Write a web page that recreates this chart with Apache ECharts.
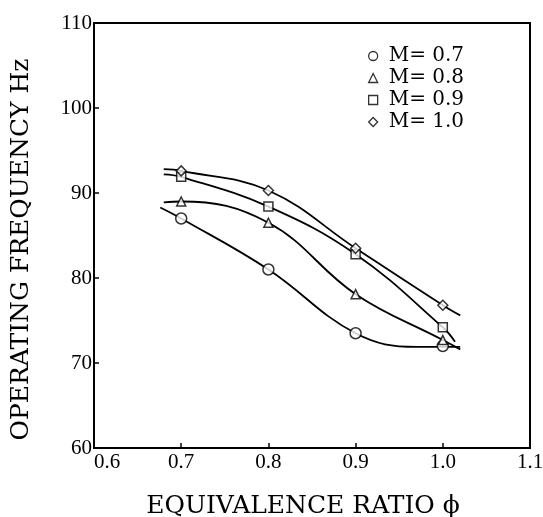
<!DOCTYPE html>
<html>
<head>
<meta charset="utf-8">
<script src="https://cdn.jsdelivr.net/npm/echarts@6/dist/echarts.min.js"></script>
<style>
  html, body { margin: 0; padding: 0; background: #fff; }
  #chart { width: 543px; height: 517px; }
</style>
</head>
<body>
<div id="chart"></div>
<script>
// measured points (phi, Hz)
var phi = [0.7, 0.8, 0.9, 1.0];
var m07 = [87.0, 81.0, 73.5, 72.0];
var m08 = [89.0, 86.5, 78.1, 72.7];
var m09 = [91.9, 88.4, 82.8, 74.2];
var m10 = [92.6, 90.3, 83.5, 76.8];

// fitted curves, including the short run past the end points
var curve07 = [[0.676, 88.3], [0.7, 87.0], [0.8, 81.0], [0.9, 73.5], [0.97, 71.9], [1.02, 71.9]];
var curve08 = [[0.68, 88.9], [0.7, 89.0], [0.8, 86.5], [0.9, 78.1], [1.0, 72.7], [1.02, 71.6]];
var curve09 = [[0.68, 92.2], [0.7, 91.9], [0.8, 88.4], [0.9, 82.8], [1.0, 74.2], [1.014, 72.5]];
var curve10 = [[0.68, 92.8], [0.7, 92.6], [0.8, 90.3], [0.9, 83.5], [1.0, 76.8], [1.02, 75.6]];

var names = ['M= 0.7', 'M= 0.8', 'M= 0.9', 'M= 1.0'];
var symbols = ['circle', 'triangle', 'rect', 'diamond'];
var sizes = [11, 9, 9, 10];

var xTicks = [0.6, 0.7, 0.8, 0.9, 1.0, 1.1];
var yTicks = [60, 70, 80, 90, 100, 110];

var serif = '"Liberation Serif", "Times New Roman", serif';
var wideSerif = '"DejaVu Serif", serif';

function pairs(ys) {
    return phi.map(function (x, i) { return [x, ys[i]]; });
}

function curveSeries(data) {
    return {
        type: 'line',
        data: data,
        smooth: 0.4,
        showSymbol: false,
        silent: true,
        lineStyle: { color: '#000', width: 1.8 },
        z: 2
    };
}

function pointSeries(i, ys) {
    return {
        type: 'scatter',
        name: names[i],
        data: pairs(ys),
        symbol: symbols[i],
        symbolSize: sizes[i],
        itemStyle: { color: '#fff', borderColor: '#000', borderWidth: 1.5 },
        z: 3
    };
}

var chart = echarts.init(document.getElementById('chart'));

var option = {
    animation: false,
    backgroundColor: '#fff',
    grid: {
        left: 94, right: 13, top: 23, bottom: 69,
        containLabel: false,
        outerBoundsMode: 'none',
        show: true,
        borderColor: '#000',
        borderWidth: 2
    },
    legend: {
        orient: 'vertical',
        left: 363,
        top: 41,
        itemGap: 2,
        itemWidth: 9,
        itemHeight: 9,
        data: names,
        textStyle: { fontFamily: wideSerif, fontSize: 20, color: '#000', padding: [0, 0, 0, 6] },
        itemStyle: { color: '#fff', borderColor: '#000', borderWidth: 1.3 }
    },
    xAxis: {
        type: 'value',
        min: 0.6, max: 1.1, interval: 0.1,
        name: 'EQUIVALENCE RATIO \u03d5',
        nameLocation: 'middle',
        nameGap: 46,
        nameTextStyle: { fontFamily: wideSerif, fontSize: 25, color: '#000', padding: [0, 18, 0, 0] },
        axisLine: { lineStyle: { color: '#000', width: 2 } },
        axisTick: { inside: true, length: 5, lineStyle: { color: '#000', width: 1.5 } },
        splitLine: { show: false },
        axisLabel: {
            fontFamily: serif, fontSize: 21, color: '#000', margin: 4,
            alignMinLabel: 'left',
            formatter: function (v) { return xTicks.indexOf(+v.toFixed(1)) >= 0 ? v.toFixed(1) : ''; }
        }
    },
    yAxis: {
        type: 'value',
        min: 60, max: 110, interval: 10,
        name: 'OPERATING FREQUENCY Hz',
        nameLocation: 'middle',
        nameGap: 60,
        nameTextStyle: { fontFamily: wideSerif, fontSize: 25, color: '#000', padding: [0, 28, 0, 0] },
        axisLine: { lineStyle: { color: '#000', width: 2 } },
        axisTick: { inside: true, length: 5, lineStyle: { color: '#000', width: 1.5 } },
        splitLine: { show: false },
        axisLabel: {
            fontFamily: serif, fontSize: 21, color: '#000', margin: 2,
            formatter: function (v) { return yTicks.indexOf(v) >= 0 ? String(v) : ''; }
        }
    },
    series: [
        curveSeries(curve07),
        curveSeries(curve08),
        curveSeries(curve09),
        curveSeries(curve10),
        pointSeries(0, m07),
        pointSeries(1, m08),
        pointSeries(2, m09),
        pointSeries(3, m10)
    ]
};

chart.setOption(option);
</script>
</body>
</html>
